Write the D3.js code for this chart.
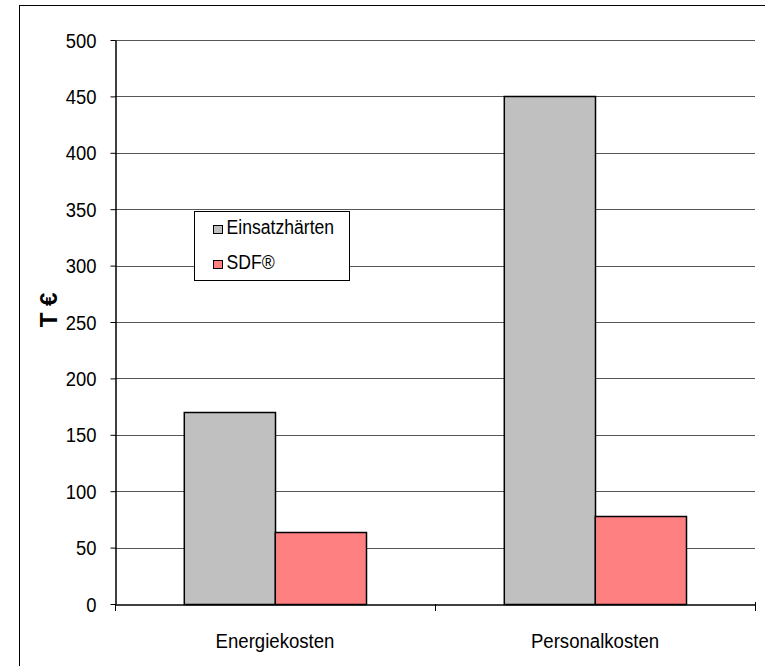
<!DOCTYPE html>
<html>
<head>
<meta charset="utf-8">
<script src="https://cdn.jsdelivr.net/npm/d3@7"></script>
<style>
  body { margin: 0; background: #fff; }
  text { font-family: "Liberation Sans", Arial, sans-serif; }
</style>
</head>
<body>
<div id="wrapper"></div>
<script>
// chart data
const categories = ["Energiekosten", "Personalkosten"];
const seriesNames = ["Einsatzhärten", "SDF®"];
const einsatzValues = [170, 450];
const sdfValues = [64, 78];
const yTicks = [0, 50, 100, 150, 200, 250, 300, 350, 400, 450, 500];
const colors = ["#c0c0c0", "#ff8080"];

const width = 765, height = 666;
const plot = { left: 115, right: 755, top: 40, bottom: 604 };

// the original font is a bit narrow, squeeze text horizontally
function squeeze(sel, f) {
    sel.each(function () {
        const w = this.getComputedTextLength();
        d3.select(this).attr("textLength", w * f).attr("lengthAdjust", "spacingAndGlyphs");
    });
}

const svg = d3.select("#wrapper").append("svg")
    .attr("width", width)
    .attr("height", height);

// outer frame
svg.append("rect")
    .attr("x", 19.5).attr("y", 5.5)
    .attr("width", 765).attr("height", 700)
    .attr("fill", "none").attr("stroke", "#000").attr("stroke-width", 1);

const y = d3.scaleLinear().domain([0, 500]).range([plot.bottom, plot.top]);
const x0 = d3.scaleBand().domain(categories).range([plot.left, plot.right]);

// gridlines
svg.append("g").selectAll("line")
    .data(yTicks.filter(d => d > 0))
    .enter().append("line")
    .attr("x1", plot.left).attr("x2", plot.right)
    .attr("y1", d => Math.round(y(d)) + 0.5).attr("y2", d => Math.round(y(d)) + 0.5)
    .attr("stroke", "#555").attr("stroke-width", 1);

// bars
const data = categories.map((c, i) => ({
    cat: c,
    vals: [{ s: seriesNames[0], v: einsatzValues[i] }, { s: seriesNames[1], v: sdfValues[i] }]
}));

const catW = x0.bandwidth();
const barW = catW * 0.285;
const groups = svg.append("g").selectAll("g")
    .data(data)
    .enter().append("g")
    .attr("transform", d => `translate(${x0(d.cat) + catW / 2 - barW},0)`);

groups.selectAll("rect")
    .data(d => d.vals)
    .enter().append("rect")
    .attr("x", (d, i) => Math.round(i * barW) + 0.5)
    .attr("y", d => Math.round(y(d.v)) + 0.5)
    .attr("width", barW)
    .attr("height", d => Math.round(plot.bottom - y(d.v)))
    .attr("fill", (d, i) => colors[i])
    .attr("stroke", "#000").attr("stroke-width", 1.5);

// y axis
const yAxis = svg.append("g")
    .attr("transform", `translate(${plot.left + 0.5},0)`)
    .call(d3.axisLeft(y).tickValues(yTicks).tickSize(5).tickPadding(14).tickSizeOuter(0));
yAxis.selectAll("text").style("font-size", "20px").attr("fill", "#000")
    .attr("dy", "0.35em");
squeeze(yAxis.selectAll("text"), 0.92);
yAxis.select(".domain").attr("stroke-width", 1.5);

// x axis
const xAxis = svg.append("g")
    .attr("transform", `translate(0,${plot.bottom + 0.5})`)
    .call(d3.axisBottom(x0).tickSize(0).tickPadding(29).tickSizeOuter(0));
xAxis.selectAll("text").style("font-size", "20px").attr("fill", "#000");
squeeze(xAxis.selectAll("text"), 0.93);
xAxis.select(".domain").attr("stroke-width", 1.5);
// category separators
svg.append("g").selectAll("line")
    .data([0, 1, 2])
    .enter().append("line")
    .attr("x1", i => plot.left + i * catW + 0.5).attr("x2", i => plot.left + i * catW + 0.5)
    .attr("y1", plot.bottom).attr("y2", plot.bottom + 7)
    .attr("stroke", "#000");
// right edge line at axis end
svg.append("line")
    .attr("x1", plot.right + 0.5).attr("x2", plot.right + 0.5)
    .attr("y1", plot.bottom - 2).attr("y2", plot.bottom + 7)
    .attr("stroke", "#000");

// axis title
svg.append("text")
    .attr("transform", `translate(57,310) rotate(-90)`)
    .attr("text-anchor", "middle")
    .style("font-size", "24px").style("font-weight", "bold")
    .text("T €");

// legend
const legend = svg.append("g").attr("transform", "translate(194.5,211.5)");
legend.append("rect")
    .attr("width", 155).attr("height", 69)
    .attr("fill", "#fff").attr("stroke", "#000").attr("stroke-width", 1);
const items = legend.selectAll("g")
    .data(seriesNames)
    .enter().append("g")
    .attr("transform", (d, i) => `translate(0,${22 + i * 35})`);
items.append("rect")
    .attr("x", 19).attr("y", -8)
    .attr("width", 9).attr("height", 8)
    .attr("fill", (d, i) => colors[i]).attr("stroke", "#000");
items.append("text")
    .attr("x", 32).attr("y", 0)
    .style("font-size", "20px")
    .text(d => d);
squeeze(items.selectAll("text"), 0.88);
</script>
</body>
</html>
